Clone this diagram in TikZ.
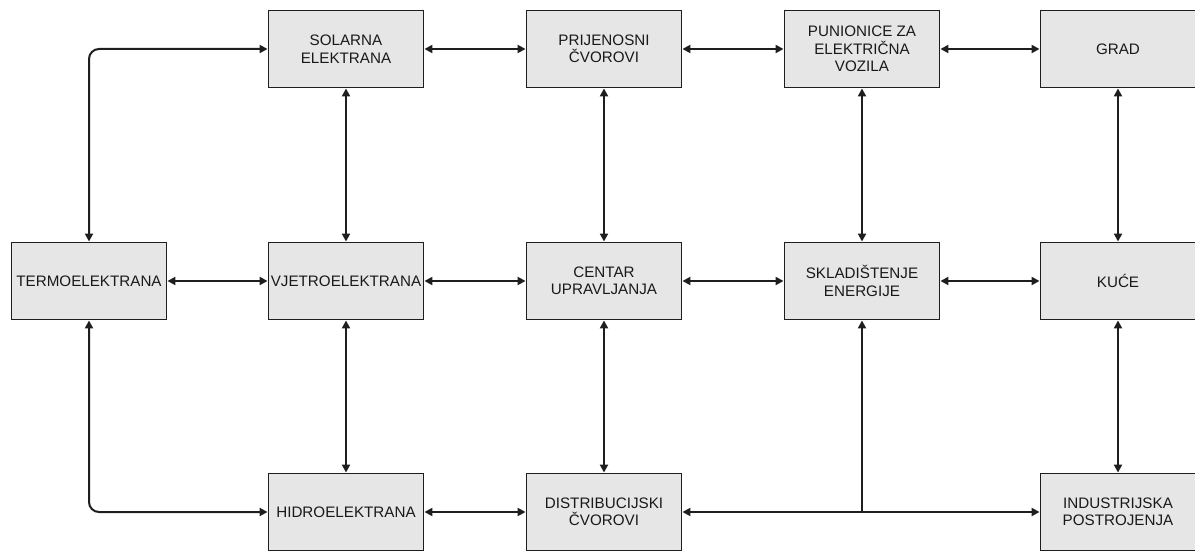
\documentclass[tikz,border=0pt]{standalone}
\usepackage{fontspec}
\setmainfont{Liberation Sans}
\usetikzlibrary{arrows.meta}
\definecolor{boxfill}{HTML}{E6E6E6}
\definecolor{linec}{HTML}{1E1E1E}
\begin{document}
\begin{tikzpicture}[x=1pt,y=-1pt,
  box/.style={draw=linec, line width=1.9pt, fill=boxfill, minimum width=155pt, minimum height=77pt,
    inner sep=1pt, align=center, font=\fontsize{15.2}{17.5}\selectfont, text=black!90},
  conn/.style={draw=linec, line width=2pt, {Triangle[length=8pt,width=8pt]}-{Triangle[length=8pt,width=8pt]}},
  oneway/.style={draw=linec, line width=2pt, -{Triangle[length=8pt,width=8pt]}}]
\useasboundingbox (0,0) rectangle (1195,551);
% row 1
\node[box] (sol) at (346,49) {SOLARNA\\ELEKTRANA};
\node[box] (pri) at (604,49) {PRIJENOSNI\\ČVOROVI};
\node[box] (pun) at (862,49) {PUNIONICE ZA\\ELEKTRIČNA\\VOZILA};
\node[box] (gra) at (1118,49) {GRAD};
% row 2
\node[box] (ter) at (89,281) {TERMOELEKTRANA};
\node[box] (vje) at (346,281) {VJETROELEKTRANA};
\node[box] (cen) at (604,281) {CENTAR\\UPRAVLJANJA};
\node[box] (skl) at (862,281) {SKLADIŠTENJE\\ENERGIJE};
\node[box] (kuc) at (1118,281) {KUĆE};
% row 3
\node[box] (hid) at (346,512) {HIDROELEKTRANA};
\node[box] (dis) at (604,512) {DISTRIBUCIJSKI\\ČVOROVI};
\node[box] (ind) at (1118,512) {INDUSTRIJSKA\\POSTROJENJA};
% horizontal connectors
\draw[conn] (sol) -- (pri);
\draw[conn] (pri) -- (pun);
\draw[conn] (pun) -- (gra);
\draw[conn] (ter) -- (vje);
\draw[conn] (vje) -- (cen);
\draw[conn] (cen) -- (skl);
\draw[conn] (skl) -- (kuc);
\draw[conn] (hid) -- (dis);
\draw[conn] (dis) -- (ind);
% vertical connectors
\draw[conn] (sol) -- (vje);
\draw[conn] (vje) -- (hid);
\draw[conn] (pri) -- (cen);
\draw[conn] (cen) -- (dis);
\draw[conn] (pun) -- (skl);
\draw[conn] (gra) -- (kuc);
\draw[conn] (kuc) -- (ind);
% side connectors
\draw[conn, rounded corners=10pt] (ter.north) |- (sol.west);
\draw[conn, rounded corners=10pt] (ter.south) |- (hid.west);
% junction to storage
\coordinate (j) at (skl.south |- dis.east);
\draw[oneway] (j) -- (skl.south);
\end{tikzpicture}
\end{document}
